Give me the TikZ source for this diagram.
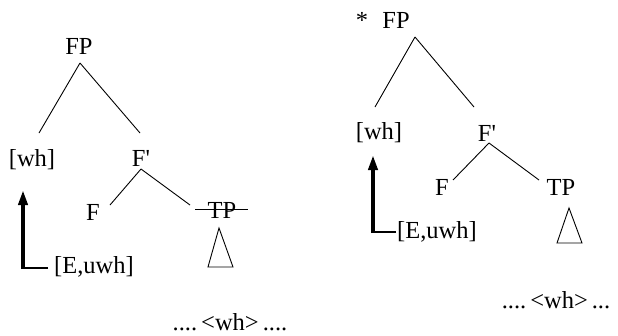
\documentclass[tikz,border=0pt]{standalone}
\usepackage{fontspec}
\setmainfont{Liberation Serif}
\usetikzlibrary{calc,arrows.meta}
\begin{document}
\begin{tikzpicture}[x=1pt,y=-1pt,
  lab/.style={inner sep=0pt,font=\fontsize{24.5}{28}\selectfont},
  branch/.style={line width=0.9pt},
  thinline/.style={line width=1.3pt},
  bigarrow/.style={line width=4pt,-{Triangle[width=9pt,length=15pt]}}]
\useasboundingbox (0,0) rectangle (618,335);
% ---------- left tree ----------
\node[lab] (FP1) at (79,46) {FP};
\node[lab] (wh1) at (32,160) {[wh]};
\node[lab] (Fp1) at (141,158) {F\textquotesingle};
\node[lab] (F1)  at (93,212) {F};
\node[lab] (TP1) at (222,210) {TP};
\node[lab] (E1)  at (94,267) {[E,uwh]};
\node[lab] (D1)  at (230,322) {....\hspace{4pt}<wh>\hspace{4pt}....};
\draw[branch] ($(FP1)+(1,17)$) -- ($(wh1)+(7,-27)$);
\draw[branch] ($(FP1)+(1,17)$) -- ($(Fp1)+(-1,-25)$);
\draw[branch] ($(Fp1)+(0,11)$) -- ($(F1)+(17,-7)$);
\draw[branch] ($(Fp1)+(0,11)$) -- ($(TP1)+(-32,-5)$);
\draw[branch] ($(TP1)+(-27,-1)$) -- ($(TP1)+(26,-1)$);
\draw[branch] ($(TP1)+(-3,18)$) -- ($(TP1)+(-14,57)$) -- ($(TP1)+(11,57)$) -- cycle;
\coordinate (k1) at ($(E1.west)+(-31,1)$);
\coordinate (t1) at ($(wh1)+(0,30)$);
\draw[thinline] ($(E1.west)+(-6,1)$) -- (k1);
\draw[bigarrow] ($(k1)+(0,1)$) -- (k1 |- t1);
% ---------- right tree ----------
\node[lab] (FP2) at (396,20) {FP};
\node[lab,anchor=base] (st) at (FP2.base -| 362,0) {*};
\node[lab] (wh2) at (379,133) {[wh]};
\node[lab] (Fp2) at (487,133) {F\textquotesingle};
\node[lab] (F2)  at (442,187) {F};
\node[lab] (TP2) at (561,187) {TP};
\node[lab] (E2)  at (437,232) {[E,uwh]};
\node[lab] (D2)  at (556,300) {....\hspace{4pt}<wh>\hspace{4pt}...};
\draw[branch] ($(FP2)+(19,17)$) -- ($(wh2)+(-4,-26)$);
\draw[branch] ($(FP2)+(19,17)$) -- ($(Fp2)+(-13,-26)$);
\draw[branch] ($(Fp2)+(2,10)$) -- ($(F2)+(11,-7)$);
\draw[branch] ($(Fp2)+(2,10)$) -- ($(TP2)+(-22,-7)$);
\draw[branch] ($(TP2)+(8,21)$) -- ($(TP2)+(-4,56)$) -- ($(TP2)+(21,56)$) -- cycle;
\coordinate (k2) at ($(E2.west)+(-24,0)$);
\coordinate (t2) at ($(wh2)+(0,22)$);
\draw[thinline] ($(E2.west)+(-1,0)$) -- (k2);
\draw[bigarrow] ($(k2)+(0,1)$) -- (k2 |- t2);
\end{tikzpicture}
\end{document}
